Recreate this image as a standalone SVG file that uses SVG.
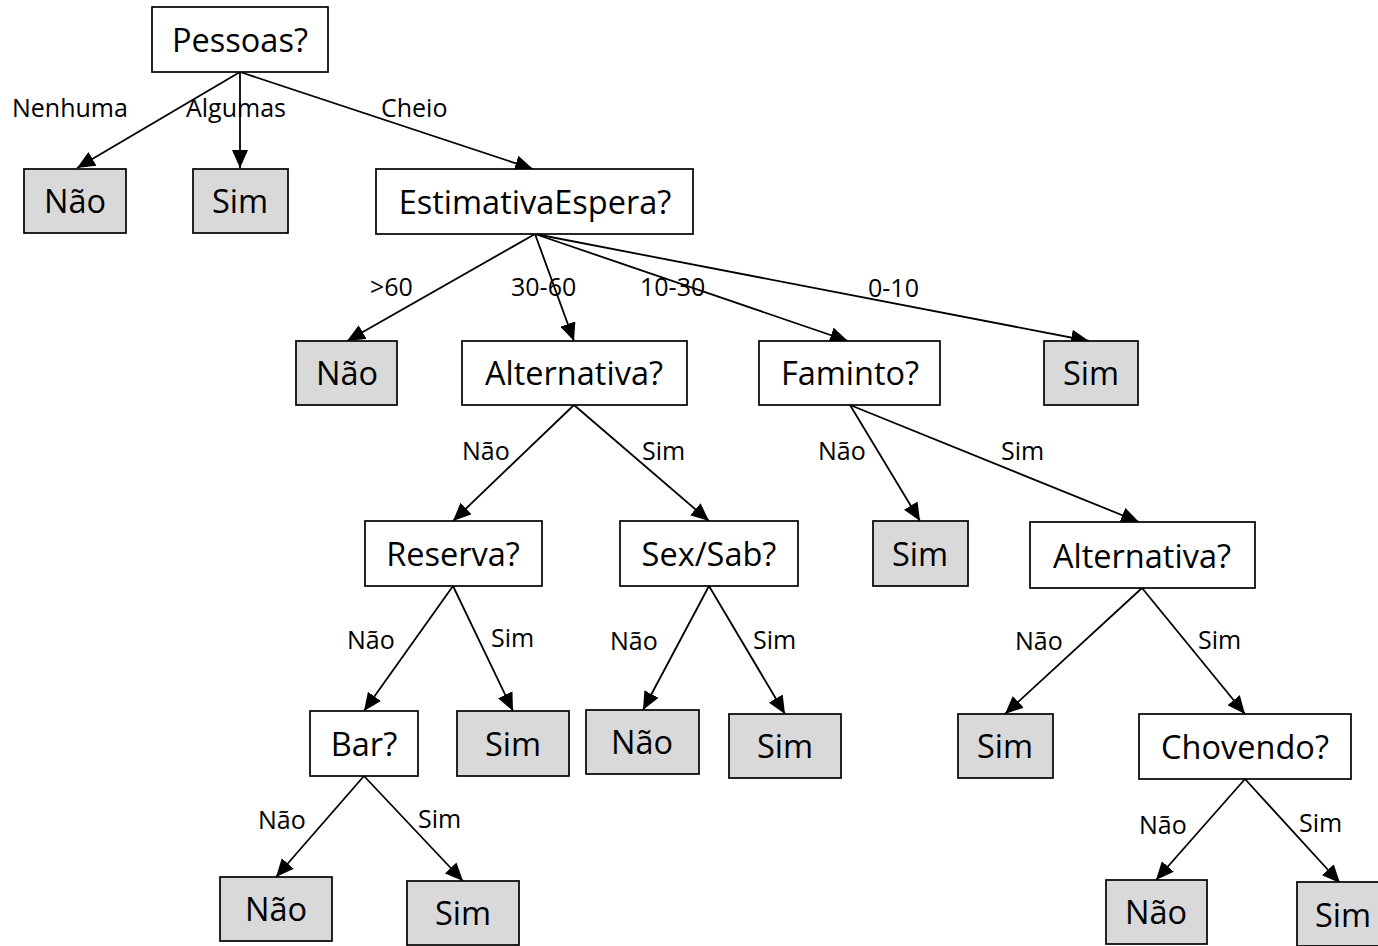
<svg xmlns="http://www.w3.org/2000/svg" width="1378" height="946" viewBox="0 0 1378 946">
<style>
.q{fill:#ffffff;stroke:#000;stroke-width:1.7}
.l{fill:#d9d9d9;stroke:#000;stroke-width:1.7}
.t{font-family:"Open Sans","Liberation Sans",sans-serif;font-size:32.5px;fill:#000;text-anchor:middle}
.e{font-family:"Open Sans","Liberation Sans",sans-serif;font-size:25px;fill:#000}
.c line{stroke:#000;stroke-width:1.8;marker-end:url(#ah)}
</style>
<defs>
<marker id="ah" viewBox="0 0 18 16" refX="18" refY="8" markerWidth="18" markerHeight="16" orient="auto" markerUnits="userSpaceOnUse">
<path d="M0,0 L18,8 L0,16 z" fill="#000"/>
</marker>
</defs>
<rect width="1378" height="946" fill="#fff"/>
<g class="c" id="connectors">
<line x1="240" y1="72" x2="77" y2="168"/>
<line x1="240" y1="72" x2="240" y2="168"/>
<line x1="240" y1="72" x2="533" y2="169"/>
<line x1="535" y1="234" x2="347" y2="341"/>
<line x1="535" y1="234" x2="574" y2="341"/>
<line x1="535" y1="234" x2="848" y2="341"/>
<line x1="535" y1="234" x2="1089" y2="341"/>
<line x1="574" y1="405" x2="453" y2="521"/>
<line x1="574" y1="405" x2="709" y2="521"/>
<line x1="850" y1="405" x2="920" y2="521"/>
<line x1="850" y1="405" x2="1139" y2="522"/>
<line x1="453" y1="586" x2="364" y2="711"/>
<line x1="453" y1="586" x2="513" y2="711"/>
<line x1="709" y1="586" x2="643" y2="710"/>
<line x1="709" y1="586" x2="785" y2="714"/>
<line x1="1142" y1="588" x2="1005" y2="714"/>
<line x1="1142" y1="588" x2="1245" y2="714"/>
<line x1="364" y1="776" x2="276" y2="877"/>
<line x1="364" y1="776" x2="463" y2="881"/>
<line x1="1245" y1="779" x2="1156" y2="880"/>
<line x1="1245" y1="779" x2="1340" y2="883"/>
</g>
<g id="edge-labels">
<text class="e" x="12" y="117">Nenhuma</text>
<text class="e" x="186" y="117">Algumas</text>
<text class="e" x="381" y="117">Cheio</text>
<text class="e" x="370" y="296">&gt;60</text>
<text class="e" x="511" y="296">30-60</text>
<text class="e" x="640" y="296">10-30</text>
<text class="e" x="868" y="297">0-10</text>
<text class="e" x="462" y="460">Não</text>
<text class="e" x="642" y="460">Sim</text>
<text class="e" x="818" y="460">Não</text>
<text class="e" x="1001" y="460">Sim</text>
<text class="e" x="347" y="649">Não</text>
<text class="e" x="491" y="647">Sim</text>
<text class="e" x="610" y="650">Não</text>
<text class="e" x="753" y="649">Sim</text>
<text class="e" x="1015" y="650">Não</text>
<text class="e" x="1198" y="649">Sim</text>
<text class="e" x="258" y="829">Não</text>
<text class="e" x="418" y="828">Sim</text>
<text class="e" x="1139" y="834">Não</text>
<text class="e" x="1299" y="832">Sim</text>
</g>
<g id="n-pessoas"><rect class="q" x="152" y="7" width="176" height="65"/><text class="t" x="240" y="52">Pessoas?</text></g>
<g id="n-nao1"><rect class="l" x="24" y="169" width="102" height="64"/><text class="t" x="75" y="213">Não</text></g>
<g id="n-sim1"><rect class="l" x="193" y="169" width="95" height="64"/><text class="t" x="240" y="213">Sim</text></g>
<g id="n-estimativa"><rect class="q" x="376" y="169" width="317" height="65"/><text class="t" x="535" y="214">EstimativaEspera?</text></g>
<g id="n-nao2"><rect class="l" x="296" y="341" width="101" height="64"/><text class="t" x="347" y="385">Não</text></g>
<g id="n-alternativa1"><rect class="q" x="462" y="341" width="225" height="64"/><text class="t" x="574" y="385">Alternativa?</text></g>
<g id="n-faminto"><rect class="q" x="759" y="341" width="181" height="64"/><text class="t" x="850" y="385">Faminto?</text></g>
<g id="n-sim2"><rect class="l" x="1044" y="341" width="94" height="64"/><text class="t" x="1091" y="385">Sim</text></g>
<g id="n-reserva"><rect class="q" x="365" y="521" width="177" height="65"/><text class="t" x="453" y="566">Reserva?</text></g>
<g id="n-sexsab"><rect class="q" x="620" y="521" width="178" height="65"/><text class="t" x="709" y="566">Sex/Sab?</text></g>
<g id="n-sim3"><rect class="l" x="873" y="521" width="95" height="65"/><text class="t" x="920" y="566">Sim</text></g>
<g id="n-alternativa2"><rect class="q" x="1030" y="522" width="225" height="66"/><text class="t" x="1142" y="568">Alternativa?</text></g>
<g id="n-bar"><rect class="q" x="310" y="711" width="108" height="65"/><text class="t" x="364" y="756">Bar?</text></g>
<g id="n-sim4"><rect class="l" x="457" y="711" width="112" height="65"/><text class="t" x="513" y="756">Sim</text></g>
<g id="n-nao3"><rect class="l" x="586" y="710" width="113" height="64"/><text class="t" x="642" y="754">Não</text></g>
<g id="n-sim5"><rect class="l" x="729" y="714" width="112" height="64"/><text class="t" x="785" y="758">Sim</text></g>
<g id="n-sim6"><rect class="l" x="958" y="714" width="95" height="64"/><text class="t" x="1005" y="758">Sim</text></g>
<g id="n-chovendo"><rect class="q" x="1139" y="714" width="212" height="65"/><text class="t" x="1245" y="759">Chovendo?</text></g>
<g id="n-nao4"><rect class="l" x="220" y="877" width="112" height="64"/><text class="t" x="276" y="921">Não</text></g>
<g id="n-sim7"><rect class="l" x="407" y="881" width="112" height="64"/><text class="t" x="463" y="925">Sim</text></g>
<g id="n-nao5"><rect class="l" x="1106" y="880" width="101" height="64"/><text class="t" x="1156" y="924">Não</text></g>
<g id="n-sim8"><rect class="l" x="1297" y="882" width="95" height="64"/><text class="t" x="1343" y="927">Sim</text></g>
</svg>
